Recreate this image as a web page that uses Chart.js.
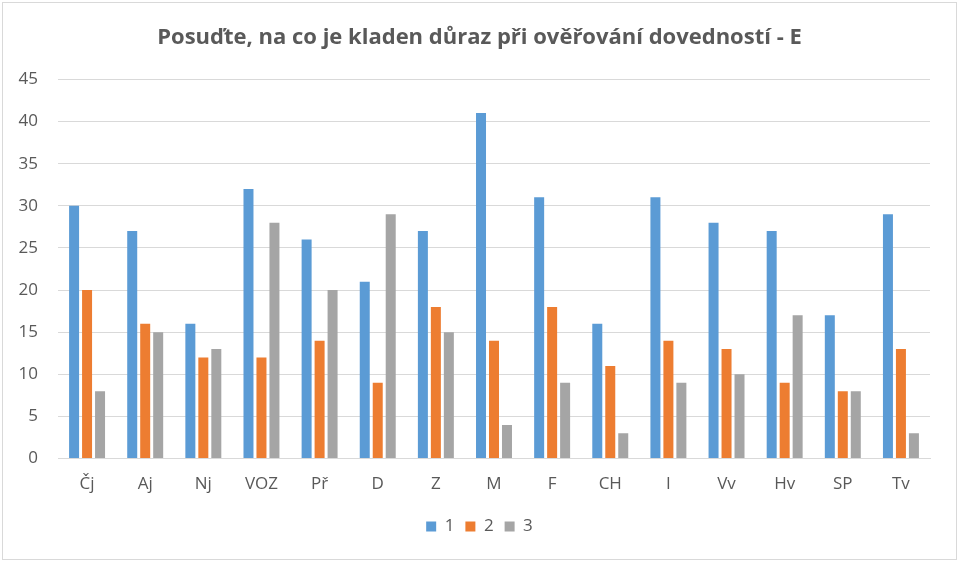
<!DOCTYPE html>
<html>
<head>
<meta charset="utf-8">
<script src="https://cdn.jsdelivr.net/npm/chart.js@4.4.1/dist/chart.umd.min.js"></script>
<style>
html,body{margin:0;padding:0;background:#fff;}
#wrap{width:959px;height:562px;position:relative;}
</style>
</head>
<body>
<div id="wrap"><canvas id="c" width="959" height="562"></canvas></div>
<script>
const categories = ["Čj","Aj","Nj","VOZ","Př","D","Z","M","F","CH","I","Vv","Hv","SP","Tv"];
const series1 = [30,27,16,32,26,21,27,41,31,16,31,28,27,17,29];
const series2 = [20,16,12,12,14,9,18,14,18,11,14,13,9,8,13];
const series3 = [8,15,13,28,20,29,15,4,9,3,9,10,17,8,3];
const seriesNames = ["1","2","3"];
const colors = ["#5B9BD5","#ED7D31","#A5A5A5"];
const titleText = "Posuďte, na co je kladen důraz při ověřování dovedností - E";

const bgPlugin = {
  id:'bg',
  beforeDraw(chart){
    const ctx = chart.ctx;
    ctx.save();
    ctx.fillStyle = '#fff';
    ctx.fillRect(0,0,chart.width,chart.height);
    ctx.strokeStyle = '#d9d9d9';
    ctx.lineWidth = 1;
    ctx.strokeRect(2.5,2.5,chart.width-5,chart.height-5);
    ctx.restore();
  }
};

const font = "Open Sans, sans-serif";
new Chart(document.getElementById('c'), {
  type:'bar',
  data:{
    labels:categories,
    datasets:[series1,series2,series3].map((d,i)=>({
      label:seriesNames[i], data:d, backgroundColor:colors[i], yAxisID:'y',
      categoryPercentage:0.67, barPercentage:0.77
    }))
  },
  options:{
    responsive:false, animation:false,
    layout:{padding:{left:16,right:16,top:14,bottom:17}},
    plugins:{
      title:{display:true,text:titleText,color:'#595959',
        font:{family:font,size:22,weight:'bold'},padding:{top:11,bottom:28}},
      legend:{position:'bottom',
        labels:{color:'#595959',font:{family:font,size:17},boxWidth:10,boxHeight:10,padding:11}},
      tooltip:{enabled:false}
    },
    scales:{
      x:{grid:{display:false},border:{color:'#d9d9d9'},
        ticks:{color:'#595959',font:{family:font,size:17},padding:7},
        afterFit(s){ s.height += 6; }},
      y:{min:0,max:45,ticks:{stepSize:5,color:'#595959',font:{family:font,size:17},padding:20},
        grid:{color:'#d9d9d9',drawTicks:false},border:{display:false},
        afterFit(s){ s.width = 42; }},
      y2:{position:'right',display:true,grid:{display:false,drawTicks:false},
        ticks:{display:false},border:{display:false},
        afterFit(s){ s.width = 13; }}
    }
  },
  plugins:[bgPlugin]
});
</script>
</body>
</html>
